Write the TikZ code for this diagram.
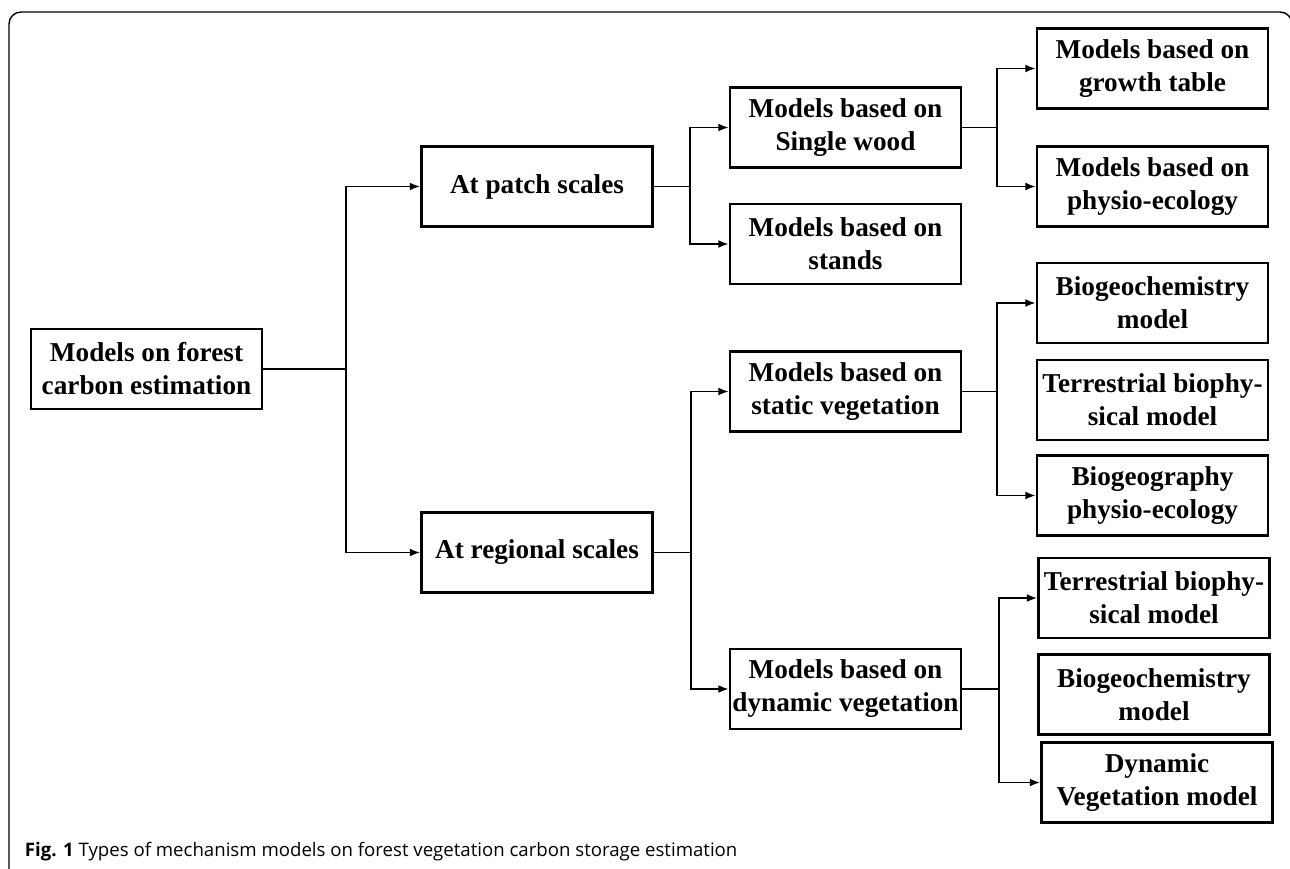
\documentclass[tikz,border=0pt]{standalone}
\usepackage{fontspec}
\setmainfont{Liberation Serif}
\newfontfamily\capfont{Open Sans}
\usetikzlibrary{arrows.meta}

\begin{document}
\begin{tikzpicture}[x = 0.02cm, y = -0.02cm, line width = 1.1pt,
                        box/.style = {draw, rectangle, line width = 1.3pt, align = center, inner sep = 0pt,
                                      minimum width = 4.62cm, minimum height = 1.6cm,
                                      font = \bfseries\fontsize{15.5}{18.8}\selectfont},
                        arr/.style = {-{Latex[length = 6pt, width = 4.5pt]}}]
      \useasboundingbox (0, 0) rectangle (1290, 868);
      \draw [line width = 0.8pt, rounded corners = 0.24cm] (9, 880) -- (9, 12) -- (1292, 12) -- (1292, 880);
      % levels from left to right
      \node [box] (root) at (146.5, 369){Models on forest\\carbon estimation};
      \node [box] (patch) at (537, 186.5){At patch scales};
      \node [box] (regional) at (537, 552.5){At regional scales};
      \node [box] (single) at (845.5, 127.5){Models based on\\Single wood};
      \node [box] (stands) at (845.5, 244){Models based on\\stands};
      \node [box] (static) at (845.5, 391.5){Models based on\\static vegetation};
      \node [box] (dynamic) at (845.5, 689){Models based on\\dynamic vegetation};
      \node [box] (growth) at (1152.5, 68.5){Models based on\\growth table};
      \node [box] (physio) at (1152.5, 186.5){Models based on\\physio-ecology};
      \node [box] (biochem1) at (1152.5, 303){Biogeochemistry\\model};
      \node [box] (terr1) at (1152.5, 400){Terrestrial biophy-\\sical model};
      \node [box] (biogeog) at (1152.5, 495.5){Biogeography\\physio-ecology};
      \node [box] (terr2) at (1154, 598){Terrestrial biophy-\\sical model};
      \node [box] (biochem2) at (1154, 694.5){Biogeochemistry\\model};
      \node [box] (dynveg) at (1157, 782.5){Dynamic\\Vegetation model};
      \coordinate (j1) at (346, 369);
      \coordinate (j2) at (690, 186.5);
      \coordinate (j3) at (691, 552.5);
      \coordinate (j4) at (997, 127.5);
      \coordinate (j5) at (997, 391.5);
      \coordinate (j6) at (999, 689);
      \draw (root.east) -- (j1);
      \draw [arr] (j1) |- (patch.west);
      \draw [arr] (j1) |- (regional.west);
      \draw (patch.east) -- (j2);
      \draw [arr] (j2) |- (single.west);
      \draw [arr] (j2) |- (stands.west);
      \draw (regional.east) -- (j3);
      \draw [arr] (j3) |- (static.west);
      \draw [arr] (j3) |- (dynamic.west);
      \draw (single.east) -- (j4);
      \draw [arr] (j4) |- (growth.west);
      \draw [arr] (j4) |- (physio.west);
      \draw (static.east) -- (j5);
      \draw [arr] (j5) |- (biochem1.west);
      \draw [arr] (j5) |- (biogeog.west);
      \draw (dynamic.east) -- (j6);
      \draw [arr] (j6) |- (terr2.west);
      \draw [arr] (j6) |- (dynveg.west);
      \node [anchor = west, inner sep = 0pt, font = \capfont\fontsize{10.6}{12}\selectfont] (caption) at (24, 852)
            {\textbf{Fig. 1} Types of mechanism models on forest vegetation carbon storage estimation};
    \end{tikzpicture}
\end{document}
